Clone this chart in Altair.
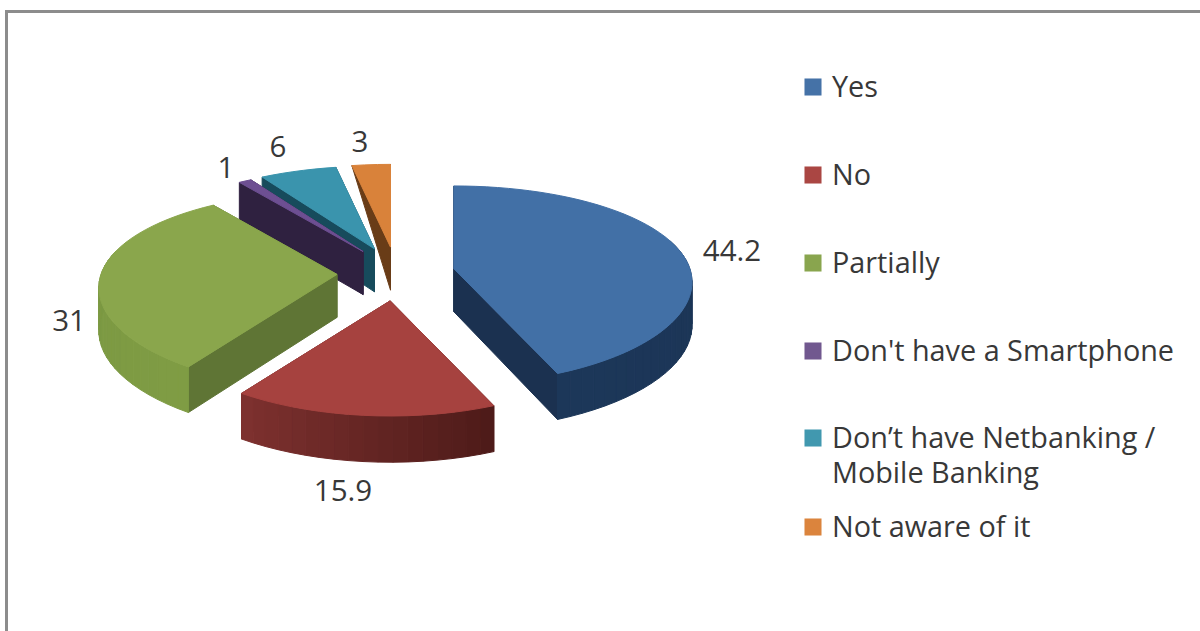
import math
import altair as alt
import pandas as pd

# Survey answers, in drawing order clockwise from twelve o'clock
categories = ["Yes", "No", "Partially", "Don't have a Smartphone",
              "Don't have Netbanking / Mobile Banking", "Not aware of it"]
values = [44.2, 15.9, 31, 1, 6, 3]
top_colors = ["#4270a6", "#a6423f", "#8aa64c", "#6d4f92", "#3a94ad", "#d9823a"]
cut_colors = ["#1b3150", "#5a2320", "#5f7535", "#2f2140", "#174b5c", "#693c17"]
rim_colors = [("#1b3353", "#1c3759"), ("#4e1b19", "#803230"), ("#7f9c44", "#789540"),
              ("#2f2140", "#2f2140"), ("#174b5c", "#174b5c"), ("#693c17", "#693c17")]
key_colors = ["#4572a7", "#aa4643", "#89a54e", "#71588f", "#4198af", "#db843d"]
label_pos = [(732, 252), (343, 492), (69, 322), (226, 169), (278, 148), (360, 143)]
legend_rows = [(88, 0, "Yes"), (176, 1, "No"), (264, 2, "Partially"),
               (352, 3, "Don't have a Smartphone"),
               (439, 4, "Don’t have Netbanking /"), (474, None, "Mobile Banking"),
               (528, 5, "Not aware of it")]

# Camera and pie proportions
CX, CY = 396, 274
EXPLODE_X, EXPLODE_Y = 59, 27
RADIUS, TILT, TILT_FALLOFF, PERSPECTIVE, DEPTH = 236, 0.41, 0.012, 0.135, 43
PAINT_ORDER = [5, 4, 3, 0, 2, 1]


def mix(a, b, f):
    pa = [int(a[i:i + 2], 16) for i in (1, 3, 5)]
    pb = [int(b[i:i + 2], 16) for i in (1, 3, 5)]
    return "#" + "".join(f"{round(p + (q - p) * f):02x}" for p, q in zip(pa, pb))


def project(ax, ay, deg):
    """Screen position and wall height of a rim point of a slice with apex (ax, ay)."""
    th = math.radians(deg)
    u, v = math.sin(th), math.cos(th)
    k = 1 / (1 + PERSPECTIVE * v)
    tilt = TILT - TILT_FALLOFF * v
    return ax + RADIUS * u * k, ay - RADIUS * tilt * v * k, DEPTH * math.sqrt(k)


rows = []
poly_id = 0


def add_poly(points, fill):
    global poly_id
    poly_id += 1
    for seq, (x, y) in enumerate(points + points[:1]):
        rows.append({"poly": poly_id, "seq": seq, "x": x, "y": y, "fill": fill})


total = sum(values)
starts = [sum(values[:i]) / total * 360 for i in range(len(values))]
for i in PAINT_ORDER:
    a0 = starts[i]
    a1 = a0 + values[i] / total * 360
    mid = math.radians((a0 + a1) / 2)
    ax = CX + EXPLODE_X * math.sin(mid)
    ay = CY - EXPLODE_Y * math.cos(mid)
    steps = max(2, int((a1 - a0) / 3))
    angles = [a0 + (a1 - a0) * s / steps for s in range(steps + 1)]
    rim = [project(ax, ay, a) for a in angles]

    # Cut faces: the closing one first, so the opening one sits in front of it
    x1, y1, d1 = rim[-1]
    add_poly([(ax, ay), (x1, y1), (x1, y1 + d1), (ax, ay + DEPTH)], cut_colors[i])
    x0, y0, d0 = rim[0]
    outer = 0 if i == 5 else d0
    add_poly([(ax, ay), (x0, y0), (x0, y0 + outer), (ax, ay + DEPTH)], cut_colors[i])

    # Outer wall, banded from one shade to the other
    for s in range(steps):
        if math.cos(math.radians(angles[s])) < 0.25 or math.cos(math.radians(angles[s + 1])) < 0.25:
            (xa, ya, da), (xb, yb, db) = rim[s], rim[s + 1]
            shade = mix(rim_colors[i][0], rim_colors[i][1], s / steps)
            add_poly([(xa, ya), (xb, yb), (xb, yb + db), (xa, ya + da)], shade)

    add_poly([(ax, ay)] + [(x, y) for x, y, _ in rim], top_colors[i])

polys = pd.DataFrame(rows)
labels = pd.DataFrame({"x": [p[0] for p in label_pos], "y": [p[1] for p in label_pos],
                       "text": [f"{v:g}" for v in values]})
legend_text = pd.DataFrame({"x": 832, "y": [r[0] for r in legend_rows],
                            "text": [r[2] for r in legend_rows]})
legend_keys = pd.DataFrame([{"x": 813, "y": r[0] - 1, "fill": key_colors[r[1]]}
                            for r in legend_rows if r[1] is not None])

X = alt.X("x:Q", scale=alt.Scale(domain=[0, 1200]), axis=None)
Y = alt.Y("y:Q", scale=alt.Scale(domain=[631, 0]), axis=None)

frame = alt.Chart(pd.DataFrame({"x": [6.5, 6.5, 1200], "y": [631, 11.5, 11.5], "seq": [0, 1, 2]})).mark_line(
    color="#8c8c8c", strokeWidth=3).encode(x=X, y=Y, order="seq:Q")

slices = alt.Chart(polys).mark_line(strokeWidth=1, strokeJoin="round").encode(
    x=X, y=Y, order="seq:Q", detail="poly:N",
    fill=alt.Fill("fill:N", scale=None), stroke=alt.Stroke("fill:N", scale=None))

value_labels = alt.Chart(labels).mark_text(
    font="Open Sans", fontSize=29.5, color="#383838", align="center", baseline="middle"
).encode(x=X, y=Y, text="text:N")

keys = alt.Chart(legend_keys).mark_point(shape="square", filled=True, size=290, opacity=1).encode(
    x=X, y=Y, fill=alt.Fill("fill:N", scale=None))

key_labels = alt.Chart(legend_text).mark_text(
    font="Open Sans", fontSize=28.8, color="#383838", align="left", baseline="middle"
).encode(x=X, y=Y, text="text:N")

chart = alt.layer(frame, slices, value_labels, keys, key_labels).properties(
    width=1200, height=631, padding=0, background="white",
    autosize=alt.AutoSizeParams(type="none")
).configure_view(stroke=None)

chart.save("out.html", embed_options={"renderer": "svg", "actions": False})
